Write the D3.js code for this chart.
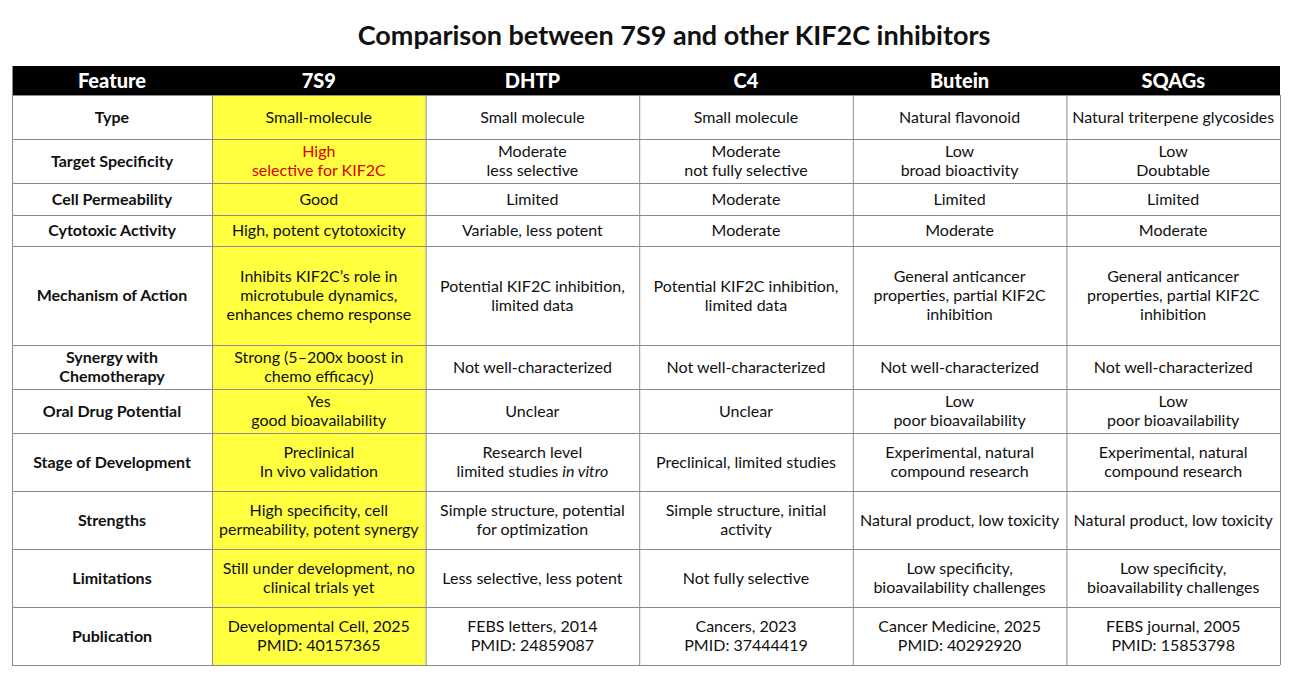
<!DOCTYPE html>
<html>
<head>
<meta charset="utf-8">
<script src="https://cdn.jsdelivr.net/npm/d3@7"></script>
<style>
  body { margin: 0; background: #fff; }
  svg { display: block; }
</style>
</head>
<body>
<div id="chart-area"></div>
<script>
// Table content
const columns = ['Feature', '7S9', 'DHTP', 'C4', 'Butein', 'SQAGs']
const features = ['Type', 'Target Specificity', 'Cell Permeability', 'Cytotoxic Activity',
  'Mechanism of Action', 'Synergy with\nChemotherapy', 'Oral Drug Potential',
  'Stage of Development', 'Strengths', 'Limitations', 'Publication']

const s7S9 = ['Small-molecule', 'High\nselective for KIF2C', 'Good', 'High, potent cytotoxicity',
  'Inhibits KIF2C\u2019s role in\nmicrotubule dynamics,\nenhances chemo response',
  'Strong (5\u2013200x boost in\nchemo efficacy)', 'Yes\ngood bioavailability',
  'Preclinical\nIn vivo validation', 'High specificity, cell\npermeability, potent synergy',
  'Still under development, no\nclinical trials yet', 'Developmental Cell, 2025\nPMID: 40157365']
const dhtp = ['Small molecule', 'Moderate\nless selective', 'Limited', 'Variable, less potent',
  'Potential KIF2C inhibition,\nlimited data', 'Not well-characterized', 'Unclear',
  'Research level\nlimited studies *in vitro*', 'Simple structure, potential\nfor optimization',
  'Less selective, less potent', 'FEBS letters, 2014\nPMID: 24859087']
const c4 = ['Small molecule', 'Moderate\nnot fully selective', 'Moderate', 'Moderate',
  'Potential KIF2C inhibition,\nlimited data', 'Not well-characterized', 'Unclear',
  'Preclinical, limited studies', 'Simple structure, initial\nactivity',
  'Not fully selective', 'Cancers, 2023\nPMID: 37444419']
const butein = ['Natural flavonoid', 'Low\nbroad bioactivity', 'Limited', 'Moderate',
  'General anticancer\nproperties, partial KIF2C\ninhibition', 'Not well-characterized',
  'Low\npoor bioavailability', 'Experimental, natural\ncompound research',
  'Natural product, low toxicity', 'Low specificity,\nbioavailability challenges',
  'Cancer Medicine, 2025\nPMID: 40292920']
const sqags = ['Natural triterpene glycosides', 'Low\nDoubtable', 'Limited', 'Moderate',
  'General anticancer\nproperties, partial KIF2C\ninhibition', 'Not well-characterized',
  'Low\npoor bioavailability', 'Experimental, natural\ncompound research',
  'Natural product, low toxicity', 'Low specificity,\nbioavailability challenges',
  'FEBS journal, 2005\nPMID: 15853798']

const title = 'Comparison between 7S9 and other KIF2C inhibitors'

// Layout (pixel row boundaries of the table)
const ROW_EDGES = [66, 95, 139, 183, 215, 246, 345, 389, 433, 491, 549, 607, 665]
const LEFT = 12, SPLIT = 212, RIGHT = 1280
const FONT = 'Lato, "Noto Sans", sans-serif'
const LINE_H = 19

const svg = d3.select('#chart-area').append('svg')
  .attr('width', 1291)
  .attr('height', 681)

svg.append('text')
  .attr('x', 674)
  .attr('y', 45)
  .attr('text-anchor', 'middle')
  .attr('font-family', FONT)
  .attr('font-weight', 'bold')
  .attr('font-size', '27px')
  .attr('fill', '#111')
  .text(title)

// compound columns share the width right of the feature column
const x = d3.scaleBand()
  .domain(columns.slice(1))
  .range([SPLIT, RIGHT])
const colX = c => c === 'Feature' ? LEFT : x(c)
const colW = c => c === 'Feature' ? SPLIT - LEFT : x.bandwidth()
const colMid = c => colX(c) + colW(c) / 2

const rows = features.map((f, i) => [f, s7S9[i], dhtp[i], c4[i], butein[i], sqags[i]])

// highlight column
svg.append('rect')
  .attr('x', x('7S9'))
  .attr('y', ROW_EDGES[1])
  .attr('width', x.bandwidth())
  .attr('height', ROW_EDGES[ROW_EDGES.length - 1] - ROW_EDGES[1])
  .attr('fill', '#ffff40')

// header
svg.append('rect')
  .attr('x', LEFT)
  .attr('y', ROW_EDGES[0])
  .attr('width', RIGHT - LEFT)
  .attr('height', ROW_EDGES[1] - ROW_EDGES[0])
  .attr('fill', '#000')

svg.selectAll('.head')
  .data(columns)
  .join('text')
  .attr('class', 'head')
  .attr('x', d => colMid(d))
  .attr('y', (ROW_EDGES[0] + ROW_EDGES[1]) / 2 + 7)
  .attr('text-anchor', 'middle')
  .attr('font-family', FONT)
  .attr('font-weight', 900)
  .attr('font-size', '20px')
  .attr('fill', '#fff')
  .text(d => d)

// grid lines
const grid = svg.append('g')
  .attr('stroke', '#8a8a8a')
  .attr('stroke-width', 1)

grid.selectAll('.hline')
  .data(ROW_EDGES.slice(1))
  .join('line')
  .attr('x1', LEFT).attr('x2', RIGHT)
  .attr('y1', d => d + 0.5).attr('y2', d => d + 0.5)

grid.selectAll('.vline')
  .data(columns.slice(1).map(c => x(c)).concat([RIGHT]))
  .join('line')
  .attr('x1', d => d + 0.5)
  .attr('x2', d => d + 0.5)
  .attr('y1', ROW_EDGES[1])
  .attr('y2', ROW_EDGES[ROW_EDGES.length - 1])

grid.append('line')
  .attr('x1', LEFT + 0.5).attr('x2', LEFT + 0.5)
  .attr('y1', ROW_EDGES[0]).attr('y2', ROW_EDGES[ROW_EDGES.length - 1])

// cell text
rows.forEach((row, ri) => {
  const yMid = (ROW_EDGES[ri + 1] + ROW_EDGES[ri + 2]) / 2
  row.forEach((cell, ci) => {
    const lines = cell.split('\n')
    const t = svg.append('text')
      .attr('text-anchor', 'middle')
      .attr('font-family', FONT)
      .attr('font-size', '16px')
      .attr('font-weight', ci === 0 ? 'bold' : 'normal')
      .attr('fill', (ci === 1 && ri === 1) ? '#d80000' : '#111')
    lines.forEach((ln, li) => {
      const y0 = yMid + 5.5 + (li - (lines.length - 1) / 2) * LINE_H
      const parts = ln.split('*')
      const ts = t.append('tspan')
        .attr('x', colMid(columns[ci]))
        .attr('y', y0)
      if (parts.length === 1) {
        ts.text(ln)
      } else {
        parts.forEach((p, pi) => {
          if (!p) return
          ts.append('tspan')
            .attr('font-style', pi % 2 === 1 ? 'italic' : 'normal')
            .text(p)
        })
      }
    })
  })
})
</script>
</body>
</html>
